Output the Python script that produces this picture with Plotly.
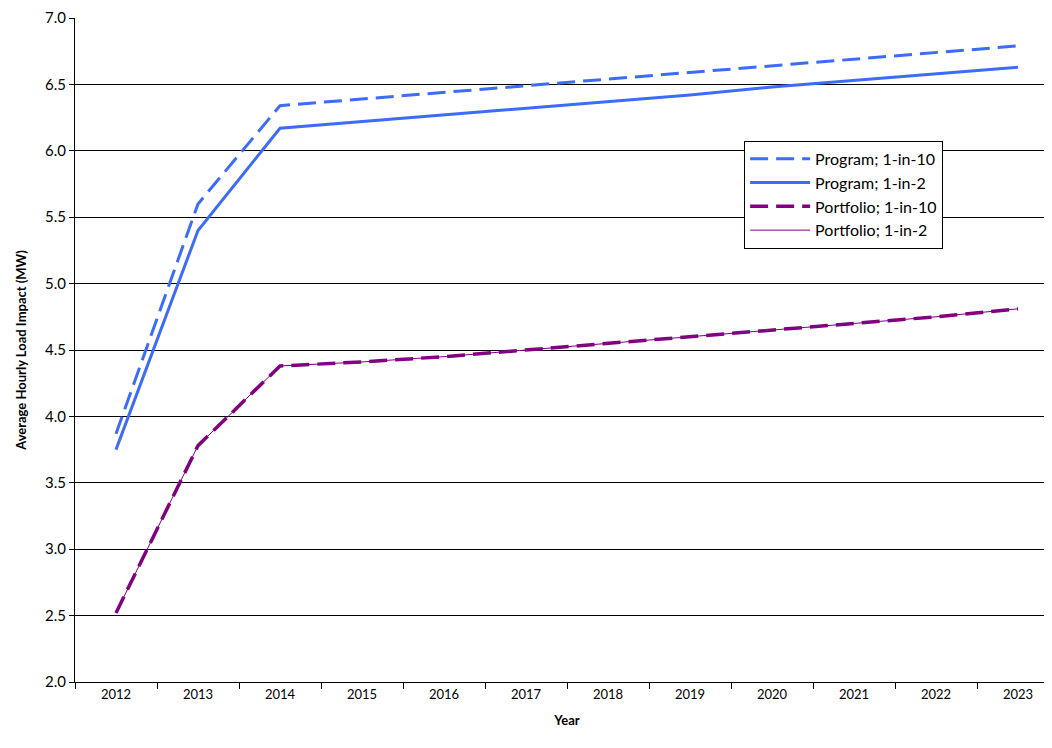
import plotly.graph_objects as go

years = [str(y) for y in range(2012, 2024)]
program_10 = [3.87, 5.60, 6.34, 6.39, 6.44, 6.49, 6.54, 6.59, 6.64, 6.69, 6.74, 6.79]
program_2 = [3.75, 5.40, 6.17, 6.22, 6.27, 6.32, 6.37, 6.42, 6.48, 6.53, 6.58, 6.63]
portfolio_10 = [2.52, 3.78, 4.38, 4.41, 4.45, 4.50, 4.55, 4.60, 4.65, 4.70, 4.75, 4.81]
portfolio_2 = [2.52, 3.78, 4.38, 4.41, 4.45, 4.50, 4.55, 4.60, 4.65, 4.70, 4.75, 4.81]

blue = "#3D6BFA"
purple = "#800080"

fig = go.Figure()
fig.add_trace(go.Scatter(x=years, y=program_10, mode="lines", name="Program; 1-in-10",
                         line=dict(color=blue, width=3, dash="18px,8px")))
fig.add_trace(go.Scatter(x=years, y=program_2, mode="lines", name="Program; 1-in-2",
                         line=dict(color=blue, width=3)))
fig.add_trace(go.Scatter(x=years, y=portfolio_10, mode="lines", name="Portfolio; 1-in-10",
                         line=dict(color=purple, width=3.5, dash="18px,8px")))
fig.add_trace(go.Scatter(x=years, y=portfolio_2, mode="lines", name="Portfolio; 1-in-2",
                         line=dict(color=purple, width=1)))

fig.update_layout(
    width=1052, height=748,
    margin=dict(l=67, r=1, t=10, b=74),
    paper_bgcolor="white", plot_bgcolor="white",
    font=dict(family="Lato", size=14, color="black"),
    legend=dict(x=0.68, y=0.815, xanchor="left", yanchor="top",
                bordercolor="black", borderwidth=1, font=dict(size=16),
                bgcolor="white", itemwidth=60, tracegroupgap=0),
    xaxis=dict(type="category", title=dict(text="<b>Year</b>", font=dict(size=13)),
               tickson="boundaries", ticks="outside", ticklen=6, tickcolor="black",
               showline=True, linecolor="black", showgrid=False,
               tickfont=dict(size=13), range=[-0.5, 11.5]),
    yaxis=dict(title=dict(text="<b>Average Hourly Load Impact (MW)</b>", font=dict(size=13)),
               range=[2.0, 7.0], dtick=0.5, tickformat=".1f",
               showgrid=True, gridcolor="black", gridwidth=1,
               showline=True, linecolor="black", ticks="outside", ticklen=5,
               tickcolor="black", tickfont=dict(size=15)),
)

fig.write_html("out.html")
